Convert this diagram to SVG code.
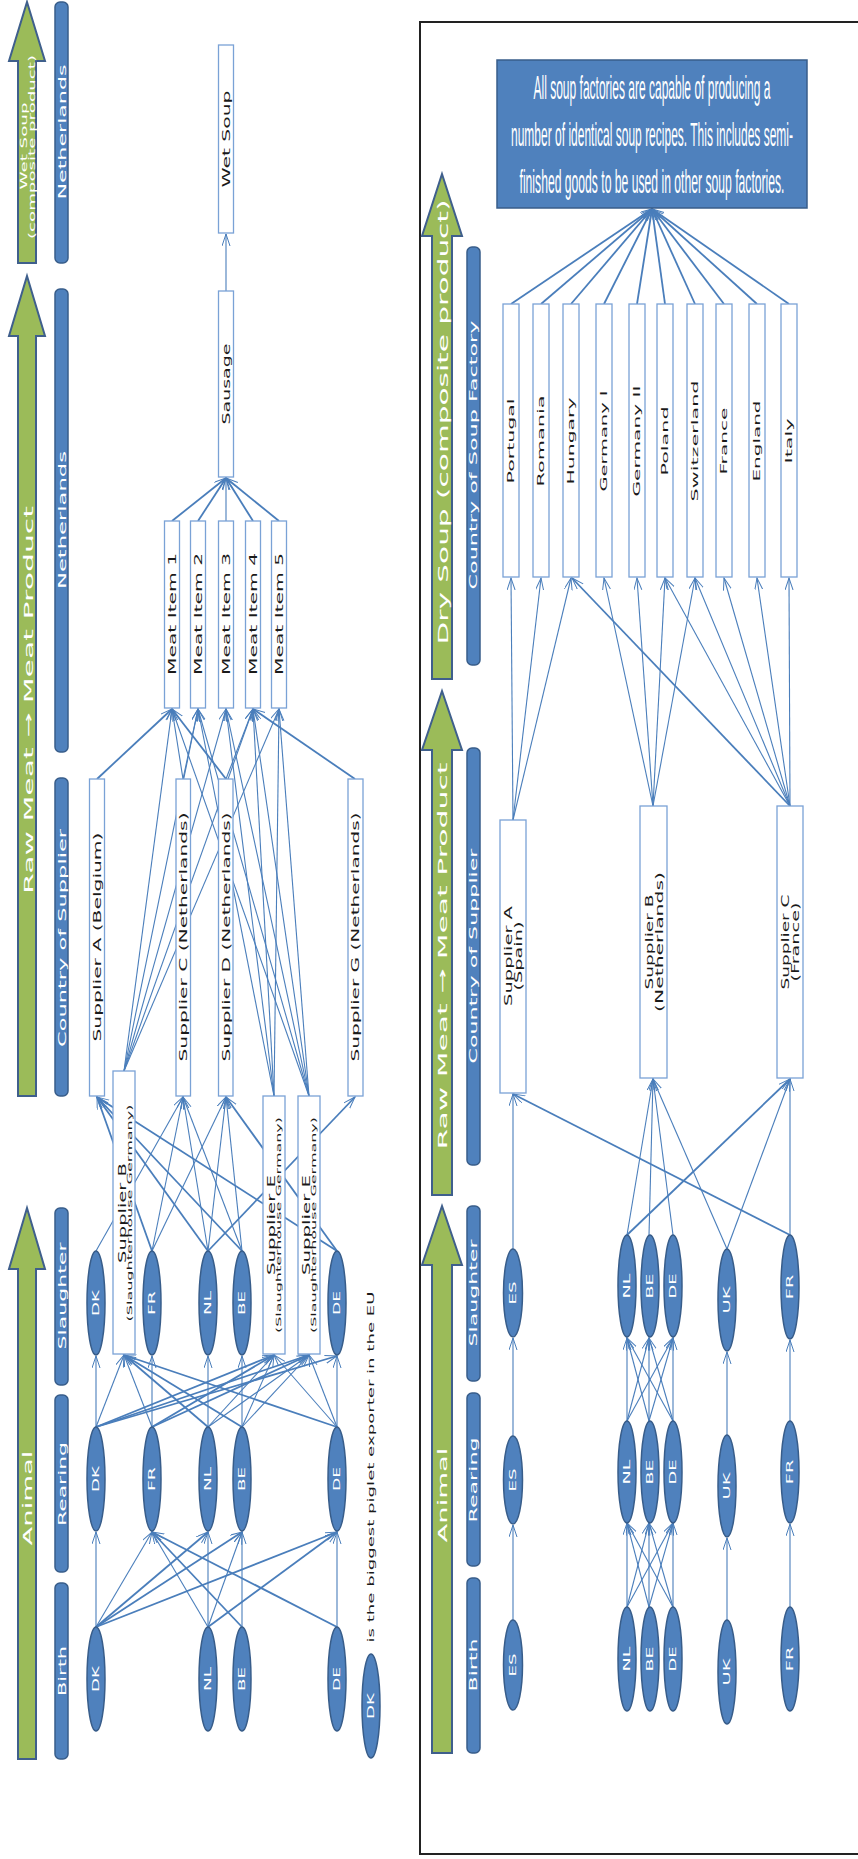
<svg xmlns="http://www.w3.org/2000/svg" width="858" height="1859" viewBox="0 0 858 1859">
<defs>
<marker id="ah" markerUnits="userSpaceOnUse" markerWidth="16" markerHeight="10" refX="12" refY="4" orient="auto"><path d="M0,0 L12,4 L0,8" fill="none" stroke="#4a7ebb" stroke-width="1"/></marker>
</defs>
<style>
.ga{fill:#9bbb59;stroke:#3f5f8c;stroke-width:2}
.bar{fill:#4f81bd;stroke:#385d8a;stroke-width:1.5}
.bx{fill:#fff;stroke:#7aa2d6;stroke-width:1.3}
.el{fill:#4f81bd;stroke:#385d8a;stroke-width:1.5}
.note{fill:#4f81bd;stroke:#385d8a;stroke-width:1.5}
.cn path{fill:none;stroke:#4a7ebb;stroke-width:1.1;marker-end:url(#ah)}
.cn path.k{stroke-width:1.8}
.hw{font-family:"DejaVu Sans",sans-serif;fill:#fff;text-anchor:middle;dominant-baseline:central}
.nt{font-family:"DejaVu Sans",sans-serif;fill:#1a1a1a;text-anchor:middle;dominant-baseline:central}
.et{font-family:"DejaVu Sans",sans-serif;fill:#fff;text-anchor:middle;dominant-baseline:central;font-size:8px}
.ntx{font-family:"Liberation Sans",sans-serif;fill:#fff;text-anchor:middle;font-size:12px}
</style>
<rect width="858" height="1859" fill="#fff"/>

<!-- ===== CONNECTORS ===== -->
<g id="connectors" class="cn">
<!-- left: product level -->
<path d="M226,291 L226,234"/>
<path class="k" d="M172,521 L226,478"/>
<path class="k" d="M198,521 L226,478"/>
<path d="M226,521 L226,478"/>
<path class="k" d="M253,521 L226,478"/>
<path class="k" d="M279,521 L226,478"/>
<!-- suppliers to meat items -->
<path class="k" d="M97,779 L172,709"/>
<path d="M183,779 L172,709"/>
<path d="M183,779 L198,709"/>
<path class="k" d="M226,779 L172,709"/>
<path d="M226,779 L253,709"/>
<path class="k" d="M355,779 L253,709"/>
<path d="M124,1071 L172,709"/>
<path d="M124,1071 L198,709"/>
<path d="M124,1071 L226,709"/>
<path d="M124,1071 L253,709"/>
<path d="M124,1071 L279,709"/>
<path d="M274,1096 L198,709"/>
<path d="M274,1096 L226,709"/>
<path d="M274,1096 L253,709"/>
<path d="M274,1096 L279,709"/>
<path d="M309,1096 L172,709"/>
<path d="M309,1096 L198,709"/>
<path d="M309,1096 L226,709"/>
<path d="M309,1096 L253,709"/>
<path d="M309,1096 L279,709"/>
<!-- slaughter to suppliers -->
<path class="k" d="M152,1251 L97,1097"/>
<path class="k" d="M208,1251 L97,1097"/>
<path class="k" d="M242,1251 L97,1097"/>
<path class="k" d="M337,1251 L97,1097"/>
<path d="M96,1251 L183,1097"/>
<path d="M152,1251 L183,1097"/>
<path d="M208,1251 L183,1097"/>
<path d="M242,1251 L183,1097"/>
<path d="M152,1251 L226,1097"/>
<path d="M208,1251 L226,1097"/>
<path d="M242,1251 L226,1097"/>
<path class="k" d="M337,1251 L226,1097"/>
<path class="k" d="M208,1251 L355,1097"/>
<!-- rearing to slaughter -->
<path d="M96,1427 L96,1356"/>
<path d="M152,1427 L152,1356"/>
<path d="M208,1427 L208,1356"/>
<path d="M242,1427 L242,1356"/>
<path d="M337,1427 L337,1356"/>
<path d="M96,1427 L124,1355"/>
<path d="M152,1427 L124,1355"/>
<path class="k" d="M208,1427 L124,1355"/>
<path class="k" d="M242,1427 L124,1355"/>
<path class="k" d="M337,1427 L124,1355"/>
<path class="k" d="M96,1427 L274,1355"/>
<path class="k" d="M152,1427 L274,1355"/>
<path d="M208,1427 L274,1355"/>
<path d="M242,1427 L274,1355"/>
<path d="M337,1427 L274,1355"/>
<path class="k" d="M96,1427 L309,1355"/>
<path class="k" d="M152,1427 L309,1355"/>
<path d="M208,1427 L309,1355"/>
<path d="M242,1427 L309,1355"/>
<path d="M337,1427 L309,1355"/>
<path class="k" d="M96,1427 L337,1356"/>
<!-- birth to rearing -->
<path d="M96,1627 L96,1532"/>
<path d="M96,1627 L152,1532"/>
<path class="k" d="M96,1627 L208,1532"/>
<path class="k" d="M96,1627 L242,1532"/>
<path class="k" d="M96,1627 L337,1532"/>
<path d="M208,1627 L152,1532"/>
<path d="M208,1627 L208,1532"/>
<path d="M208,1627 L242,1532"/>
<path class="k" d="M208,1627 L337,1532"/>
<path class="k" d="M242,1627 L152,1532"/>
<path d="M242,1627 L242,1532"/>
<path class="k" d="M337,1627 L152,1532"/>
<path d="M337,1627 L337,1532"/>

<!-- right: animal -->
<path d="M513,1620 L513,1525"/>
<path d="M513,1436 L513,1338"/>
<path d="M513,1249 L513,1094"/>
<path d="M627,1607 L627,1523"/>
<path d="M627,1607 L649,1523"/>
<path d="M627,1607 L673,1523"/>
<path d="M649,1607 L627,1523"/>
<path d="M649,1607 L649,1523"/>
<path d="M649,1607 L673,1523"/>
<path d="M673,1607 L627,1523"/>
<path d="M673,1607 L649,1523"/>
<path d="M673,1607 L673,1523"/>
<path d="M627,1421 L627,1338"/>
<path d="M627,1421 L649,1338"/>
<path d="M627,1421 L673,1338"/>
<path d="M649,1421 L627,1338"/>
<path d="M649,1421 L649,1338"/>
<path d="M649,1421 L673,1338"/>
<path d="M673,1421 L627,1338"/>
<path d="M673,1421 L649,1338"/>
<path d="M673,1421 L673,1338"/>
<path d="M727,1620 L727,1538"/>
<path d="M727,1435 L727,1352"/>
<path d="M790,1607 L790,1524"/>
<path d="M790,1421 L790,1340"/>
<path d="M627,1235 L653,1079"/>
<path d="M649,1235 L653,1079"/>
<path d="M673,1235 L653,1079"/>
<path d="M727,1249 L653,1079"/>
<path class="k" d="M627,1235 L790,1079"/>
<path d="M727,1249 L790,1079"/>
<path d="M790,1235 L790,1079"/>
<path class="k" d="M790,1235 L513,1094"/>
<!-- suppliers to factories -->
<path d="M513,820 L511,578"/>
<path d="M513,820 L541,578"/>
<path d="M513,820 L571,578"/>
<path d="M653,806 L604,578"/>
<path d="M653,806 L637,578"/>
<path d="M653,806 L665,578"/>
<path d="M653,806 L695,578"/>
<path class="k" d="M790,806 L572,578"/>
<path d="M790,806 L665,578"/>
<path d="M790,806 L695,578"/>
<path d="M790,806 L724,578"/>
<path d="M790,806 L757,578"/>
<path d="M790,806 L789,578"/>
<!-- factories to note -->
<path class="k" d="M511,304 L652,209"/>
<path class="k" d="M541,304 L652,209"/>
<path class="k" d="M571,304 L652,209"/>
<path class="k" d="M604,304 L652,209"/>
<path class="k" d="M637,304 L652,209"/>
<path class="k" d="M665,304 L652,209"/>
<path class="k" d="M695,304 L652,209"/>
<path class="k" d="M724,304 L652,209"/>
<path class="k" d="M757,304 L652,209"/>
<path class="k" d="M789,304 L652,209"/>
</g>

<!-- ===== LEFT PANEL ===== -->
<g id="l-stage-wetsoup">
<polygon class="ga" points="27,2 45,61 36,61 36,263 18,263 18,61 9,61"/>
<text class="hw" font-size="8" transform="translate(24,146) rotate(-90)" textLength="87" lengthAdjust="spacingAndGlyphs">Wet Soup</text>
<text class="hw" font-size="8" transform="translate(32,147) rotate(-90)" textLength="184" lengthAdjust="spacingAndGlyphs">(composite product)</text>
</g>
<g id="l-stage-meat">
<polygon class="ga" points="27,276 45,336 36,336 36,1096 18,1096 18,336 9,336"/>
<text class="hw" font-size="13" transform="translate(28,700) rotate(-90)" textLength="388" lengthAdjust="spacingAndGlyphs">Raw Meat → Meat Product</text>
</g>
<g id="l-stage-animal">
<polygon class="ga" points="27,1208 45,1269 36,1269 36,1759 18,1759 18,1269 9,1269"/>
<text class="hw" font-size="13" transform="translate(27,1498) rotate(-90)" textLength="95" lengthAdjust="spacingAndGlyphs">Animal</text>
</g>
<g id="l-bar-nl1"><rect class="bar" x="55" y="2" width="13" height="261" rx="5"/>
<text class="hw" font-size="10" transform="translate(62,132) rotate(-90)" textLength="135" lengthAdjust="spacingAndGlyphs">Netherlands</text></g>
<g id="l-bar-nl2"><rect class="bar" x="55" y="289" width="13" height="463" rx="5"/>
<text class="hw" font-size="10" transform="translate(62,520) rotate(-90)" textLength="138" lengthAdjust="spacingAndGlyphs">Netherlands</text></g>
<g id="l-bar-supplier"><rect class="bar" x="55" y="778" width="13" height="318" rx="5"/>
<text class="hw" font-size="10" transform="translate(62,938) rotate(-90)" textLength="218" lengthAdjust="spacingAndGlyphs">Country of Supplier</text></g>
<g id="l-bar-slaughter"><rect class="bar" x="55" y="1208" width="13" height="177" rx="5"/>
<text class="hw" font-size="10" transform="translate(62,1296) rotate(-90)" textLength="107" lengthAdjust="spacingAndGlyphs">Slaughter</text></g>
<g id="l-bar-rearing"><rect class="bar" x="55" y="1395" width="13" height="177" rx="5"/>
<text class="hw" font-size="10" transform="translate(62,1484) rotate(-90)" textLength="84" lengthAdjust="spacingAndGlyphs">Rearing</text></g>
<g id="l-bar-birth"><rect class="bar" x="55" y="1583" width="13" height="176" rx="5"/>
<text class="hw" font-size="10" transform="translate(62,1671) rotate(-90)" textLength="50" lengthAdjust="spacingAndGlyphs">Birth</text></g>

<g id="l-wetsoup"><rect class="bx" x="218.5" y="45" width="15" height="188"/>
<text class="nt" font-size="10" transform="translate(226,139) rotate(-90)" textLength="97" lengthAdjust="spacingAndGlyphs">Wet Soup</text></g>
<g id="l-sausage"><rect class="bx" x="218.5" y="291" width="15" height="186"/>
<text class="nt" font-size="10" transform="translate(226,384) rotate(-90)" textLength="81" lengthAdjust="spacingAndGlyphs">Sausage</text></g>
<g id="l-mi1"><rect class="bx" x="164.5" y="521" width="15" height="187"/>
<text class="nt" font-size="10" transform="translate(172,614) rotate(-90)" textLength="122" lengthAdjust="spacingAndGlyphs">Meat Item 1</text></g>
<g id="l-mi2"><rect class="bx" x="190.5" y="521" width="15" height="187"/>
<text class="nt" font-size="10" transform="translate(198,614) rotate(-90)" textLength="122" lengthAdjust="spacingAndGlyphs">Meat Item 2</text></g>
<g id="l-mi3"><rect class="bx" x="218.5" y="521" width="15" height="187"/>
<text class="nt" font-size="10" transform="translate(226,614) rotate(-90)" textLength="122" lengthAdjust="spacingAndGlyphs">Meat Item 3</text></g>
<g id="l-mi4"><rect class="bx" x="245.5" y="521" width="15" height="187"/>
<text class="nt" font-size="10" transform="translate(253,614) rotate(-90)" textLength="122" lengthAdjust="spacingAndGlyphs">Meat Item 4</text></g>
<g id="l-mi5"><rect class="bx" x="271.5" y="521" width="15" height="187"/>
<text class="nt" font-size="10" transform="translate(279,614) rotate(-90)" textLength="122" lengthAdjust="spacingAndGlyphs">Meat Item 5</text></g>

<g id="l-supA"><rect class="bx" x="89.5" y="779" width="15" height="317"/>
<text class="nt" font-size="10" transform="translate(97,937) rotate(-90)" textLength="209" lengthAdjust="spacingAndGlyphs">Supplier A (Belgium)</text></g>
<g id="l-supC"><rect class="bx" x="176" y="779" width="14.5" height="317"/>
<text class="nt" font-size="10" transform="translate(183,937) rotate(-90)" textLength="249" lengthAdjust="spacingAndGlyphs">Supplier C (Netherlands)</text></g>
<g id="l-supD"><rect class="bx" x="218.5" y="779" width="14.5" height="317"/>
<text class="nt" font-size="10" transform="translate(226,937) rotate(-90)" textLength="249" lengthAdjust="spacingAndGlyphs">Supplier D (Netherlands)</text></g>
<g id="l-supG"><rect class="bx" x="348" y="779" width="15" height="317"/>
<text class="nt" font-size="10" transform="translate(355,937) rotate(-90)" textLength="249" lengthAdjust="spacingAndGlyphs">Supplier G (Netherlands)</text></g>
<g id="l-supB"><rect class="bx" x="113" y="1071" width="22" height="283"/>
<text class="nt" font-size="10" transform="translate(122,1213) rotate(-90)" textLength="100" lengthAdjust="spacingAndGlyphs">Supplier B</text>
<text class="nt" font-size="7" transform="translate(130,1213) rotate(-90)" textLength="217" lengthAdjust="spacingAndGlyphs">(Slaughterhouse Germany)</text></g>
<g id="l-supE1"><rect class="bx" x="263" y="1096" width="22" height="258"/>
<text class="nt" font-size="10" transform="translate(271,1225) rotate(-90)" textLength="100" lengthAdjust="spacingAndGlyphs">Supplier E</text>
<text class="nt" font-size="7" transform="translate(279,1225) rotate(-90)" textLength="216" lengthAdjust="spacingAndGlyphs">(Slaughterhouse Germany)</text></g>
<g id="l-supE2"><rect class="bx" x="298" y="1096" width="22" height="258"/>
<text class="nt" font-size="10" transform="translate(306,1225) rotate(-90)" textLength="100" lengthAdjust="spacingAndGlyphs">Supplier E</text>
<text class="nt" font-size="7" transform="translate(314,1225) rotate(-90)" textLength="216" lengthAdjust="spacingAndGlyphs">(Slaughterhouse Germany)</text></g>

<g id="l-s-dk"><ellipse class="el" cx="96" cy="1303" rx="9" ry="52"/><text class="et" transform="translate(96,1303) rotate(-90)" textLength="26" lengthAdjust="spacingAndGlyphs">DK</text></g>
<g id="l-s-fr"><ellipse class="el" cx="152" cy="1303" rx="9" ry="52"/><text class="et" transform="translate(152,1303) rotate(-90)" textLength="24" lengthAdjust="spacingAndGlyphs">FR</text></g>
<g id="l-s-nl"><ellipse class="el" cx="208" cy="1303" rx="9" ry="52"/><text class="et" transform="translate(208,1303) rotate(-90)" textLength="24" lengthAdjust="spacingAndGlyphs">NL</text></g>
<g id="l-s-be"><ellipse class="el" cx="242" cy="1303" rx="9" ry="52"/><text class="et" transform="translate(242,1303) rotate(-90)" textLength="24" lengthAdjust="spacingAndGlyphs">BE</text></g>
<g id="l-s-de"><ellipse class="el" cx="337" cy="1303" rx="9" ry="52"/><text class="et" transform="translate(337,1303) rotate(-90)" textLength="24" lengthAdjust="spacingAndGlyphs">DE</text></g>
<g id="l-r-dk"><ellipse class="el" cx="96" cy="1479" rx="9" ry="52"/><text class="et" transform="translate(96,1479) rotate(-90)" textLength="26" lengthAdjust="spacingAndGlyphs">DK</text></g>
<g id="l-r-fr"><ellipse class="el" cx="152" cy="1479" rx="9" ry="52"/><text class="et" transform="translate(152,1479) rotate(-90)" textLength="24" lengthAdjust="spacingAndGlyphs">FR</text></g>
<g id="l-r-nl"><ellipse class="el" cx="208" cy="1479" rx="9" ry="52"/><text class="et" transform="translate(208,1479) rotate(-90)" textLength="24" lengthAdjust="spacingAndGlyphs">NL</text></g>
<g id="l-r-be"><ellipse class="el" cx="242" cy="1479" rx="9" ry="52"/><text class="et" transform="translate(242,1479) rotate(-90)" textLength="24" lengthAdjust="spacingAndGlyphs">BE</text></g>
<g id="l-r-de"><ellipse class="el" cx="337" cy="1479" rx="9" ry="52"/><text class="et" transform="translate(337,1479) rotate(-90)" textLength="24" lengthAdjust="spacingAndGlyphs">DE</text></g>
<g id="l-b-dk"><ellipse class="el" cx="96" cy="1679" rx="9" ry="52"/><text class="et" transform="translate(96,1679) rotate(-90)" textLength="26" lengthAdjust="spacingAndGlyphs">DK</text></g>
<g id="l-b-nl"><ellipse class="el" cx="208" cy="1679" rx="9" ry="52"/><text class="et" transform="translate(208,1679) rotate(-90)" textLength="24" lengthAdjust="spacingAndGlyphs">NL</text></g>
<g id="l-b-be"><ellipse class="el" cx="242" cy="1679" rx="9" ry="52"/><text class="et" transform="translate(242,1679) rotate(-90)" textLength="24" lengthAdjust="spacingAndGlyphs">BE</text></g>
<g id="l-b-de"><ellipse class="el" cx="337" cy="1679" rx="9" ry="52"/><text class="et" transform="translate(337,1679) rotate(-90)" textLength="24" lengthAdjust="spacingAndGlyphs">DE</text></g>
<g id="l-legend"><ellipse class="el" cx="371" cy="1706" rx="9" ry="52"/><text class="et" transform="translate(371,1706) rotate(-90)" textLength="26" lengthAdjust="spacingAndGlyphs">DK</text>
<text class="nt" font-size="9" transform="translate(371,1467) rotate(-90)" textLength="351" lengthAdjust="spacingAndGlyphs">is the biggest piglet exporter in the EU</text></g>

<!-- ===== RIGHT PANEL ===== -->
<rect id="frame" x="420" y="22" width="440" height="1832" fill="none" stroke="#222" stroke-width="2"/>
<g id="r-stage-dry">
<polygon class="ga" points="442,174 462,236 452,236 452,679 432,679 432,236 422,236"/>
<text class="hw" font-size="14" transform="translate(443,422) rotate(-90)" textLength="445" lengthAdjust="spacingAndGlyphs">Dry Soup (composite product)</text>
</g>
<g id="r-stage-meat">
<polygon class="ga" points="442,691 462,750 452,750 452,1195 432,1195 432,750 422,750"/>
<text class="hw" font-size="13" transform="translate(442,956) rotate(-90)" textLength="387" lengthAdjust="spacingAndGlyphs">Raw Meat → Meat Product</text>
</g>
<g id="r-stage-animal">
<polygon class="ga" points="442,1206 462,1265 452,1265 452,1753 432,1753 432,1265 422,1265"/>
<text class="hw" font-size="13" transform="translate(442,1495) rotate(-90)" textLength="95" lengthAdjust="spacingAndGlyphs">Animal</text>
</g>
<g id="r-bar-factory"><rect class="bar" x="467" y="247" width="13" height="418" rx="5"/>
<text class="hw" font-size="10" transform="translate(473,455) rotate(-90)" textLength="269" lengthAdjust="spacingAndGlyphs">Country of Soup Factory</text></g>
<g id="r-bar-supplier"><rect class="bar" x="467" y="748" width="13" height="417" rx="5"/>
<text class="hw" font-size="10" transform="translate(473,956) rotate(-90)" textLength="215" lengthAdjust="spacingAndGlyphs">Country of Supplier</text></g>
<g id="r-bar-slaughter"><rect class="bar" x="467" y="1206" width="13" height="175" rx="5"/>
<text class="hw" font-size="10" transform="translate(473,1293) rotate(-90)" textLength="107" lengthAdjust="spacingAndGlyphs">Slaughter</text></g>
<g id="r-bar-rearing"><rect class="bar" x="467" y="1393" width="13" height="173" rx="5"/>
<text class="hw" font-size="10" transform="translate(473,1480) rotate(-90)" textLength="85" lengthAdjust="spacingAndGlyphs">Rearing</text></g>
<g id="r-bar-birth"><rect class="bar" x="467" y="1578" width="13" height="175" rx="5"/>
<text class="hw" font-size="10" transform="translate(473,1665) rotate(-90)" textLength="53" lengthAdjust="spacingAndGlyphs">Birth</text></g>

<g id="r-note"><rect class="note" x="497" y="60" width="310" height="148"/>
<text class="ntx" transform="translate(652,99) scale(1,2.8)" textLength="237" lengthAdjust="spacingAndGlyphs">All soup factories are capable of producing a</text>
<text class="ntx" transform="translate(652,146) scale(1,2.8)" textLength="282" lengthAdjust="spacingAndGlyphs">number of identical soup recipes. This includes semi-</text>
<text class="ntx" transform="translate(652,193) scale(1,2.8)" textLength="265" lengthAdjust="spacingAndGlyphs">finished goods to be used in other soup factories.</text></g>

<g id="r-f-portugal"><rect class="bx" x="503" y="304" width="16" height="273"/><text class="nt" font-size="9" transform="translate(511,441) rotate(-90)" textLength="85" lengthAdjust="spacingAndGlyphs">Portugal</text></g>
<g id="r-f-romania"><rect class="bx" x="533" y="304" width="16" height="273"/><text class="nt" font-size="9" transform="translate(541,441) rotate(-90)" textLength="91" lengthAdjust="spacingAndGlyphs">Romania</text></g>
<g id="r-f-hungary"><rect class="bx" x="563" y="304" width="16" height="273"/><text class="nt" font-size="9" transform="translate(571,441) rotate(-90)" textLength="87" lengthAdjust="spacingAndGlyphs">Hungary</text></g>
<g id="r-f-germany1"><rect class="bx" x="596" y="304" width="16" height="273"/><text class="nt" font-size="9" transform="translate(604,441) rotate(-90)" textLength="101" lengthAdjust="spacingAndGlyphs">Germany I</text></g>
<g id="r-f-germany2"><rect class="bx" x="629" y="304" width="16" height="273"/><text class="nt" font-size="9" transform="translate(637,441) rotate(-90)" textLength="111" lengthAdjust="spacingAndGlyphs">Germany II</text></g>
<g id="r-f-poland"><rect class="bx" x="657" y="304" width="16" height="273"/><text class="nt" font-size="9" transform="translate(665,441) rotate(-90)" textLength="69" lengthAdjust="spacingAndGlyphs">Poland</text></g>
<g id="r-f-switzerland"><rect class="bx" x="687" y="304" width="16" height="273"/><text class="nt" font-size="9" transform="translate(695,441) rotate(-90)" textLength="121" lengthAdjust="spacingAndGlyphs">Switzerland</text></g>
<g id="r-f-france"><rect class="bx" x="716" y="304" width="16" height="273"/><text class="nt" font-size="9" transform="translate(724,441) rotate(-90)" textLength="67" lengthAdjust="spacingAndGlyphs">France</text></g>
<g id="r-f-england"><rect class="bx" x="749" y="304" width="16" height="273"/><text class="nt" font-size="9" transform="translate(757,441) rotate(-90)" textLength="81" lengthAdjust="spacingAndGlyphs">England</text></g>
<g id="r-f-italy"><rect class="bx" x="781" y="304" width="16" height="273"/><text class="nt" font-size="9" transform="translate(789,441) rotate(-90)" textLength="45" lengthAdjust="spacingAndGlyphs">Italy</text></g>

<g id="r-supA"><rect class="bx" x="500" y="820" width="26" height="273"/>
<text class="nt" font-size="10" transform="translate(508,956) rotate(-90)" textLength="100" lengthAdjust="spacingAndGlyphs">Supplier A</text>
<text class="nt" font-size="10" transform="translate(518,956) rotate(-90)" textLength="69" lengthAdjust="spacingAndGlyphs">(Spain)</text></g>
<g id="r-supB"><rect class="bx" x="640" y="806" width="27" height="272"/>
<text class="nt" font-size="10" transform="translate(649,942) rotate(-90)" textLength="95" lengthAdjust="spacingAndGlyphs">Supplier B</text>
<text class="nt" font-size="10" transform="translate(659,942) rotate(-90)" textLength="140" lengthAdjust="spacingAndGlyphs">(Netherlands)</text></g>
<g id="r-supC"><rect class="bx" x="777" y="806" width="26" height="272"/>
<text class="nt" font-size="10" transform="translate(785,942) rotate(-90)" textLength="95" lengthAdjust="spacingAndGlyphs">Supplier C</text>
<text class="nt" font-size="10" transform="translate(795,942) rotate(-90)" textLength="79" lengthAdjust="spacingAndGlyphs">(France)</text></g>

<g id="r-s-es"><ellipse class="el" cx="513" cy="1293" rx="9.5" ry="44"/><text class="et" transform="translate(513,1293) rotate(-90)" textLength="23" lengthAdjust="spacingAndGlyphs">ES</text></g>
<g id="r-s-nl"><ellipse class="el" cx="627" cy="1286" rx="9" ry="51"/><text class="et" transform="translate(627,1286) rotate(-90)" textLength="25" lengthAdjust="spacingAndGlyphs">NL</text></g>
<g id="r-s-be"><ellipse class="el" cx="650" cy="1286" rx="9" ry="51"/><text class="et" transform="translate(650,1286) rotate(-90)" textLength="25" lengthAdjust="spacingAndGlyphs">BE</text></g>
<g id="r-s-de"><ellipse class="el" cx="673" cy="1286" rx="9" ry="51"/><text class="et" transform="translate(673,1286) rotate(-90)" textLength="25" lengthAdjust="spacingAndGlyphs">DE</text></g>
<g id="r-s-uk"><ellipse class="el" cx="727" cy="1300" rx="9" ry="51"/><text class="et" transform="translate(727,1300) rotate(-90)" textLength="27" lengthAdjust="spacingAndGlyphs">UK</text></g>
<g id="r-s-fr"><ellipse class="el" cx="790" cy="1287" rx="9" ry="52"/><text class="et" transform="translate(790,1287) rotate(-90)" textLength="25" lengthAdjust="spacingAndGlyphs">FR</text></g>
<g id="r-r-es"><ellipse class="el" cx="513" cy="1480" rx="9.5" ry="44"/><text class="et" transform="translate(513,1480) rotate(-90)" textLength="23" lengthAdjust="spacingAndGlyphs">ES</text></g>
<g id="r-r-nl"><ellipse class="el" cx="627" cy="1472" rx="9" ry="51"/><text class="et" transform="translate(627,1472) rotate(-90)" textLength="25" lengthAdjust="spacingAndGlyphs">NL</text></g>
<g id="r-r-be"><ellipse class="el" cx="650" cy="1472" rx="9" ry="51"/><text class="et" transform="translate(650,1472) rotate(-90)" textLength="25" lengthAdjust="spacingAndGlyphs">BE</text></g>
<g id="r-r-de"><ellipse class="el" cx="673" cy="1472" rx="9" ry="51"/><text class="et" transform="translate(673,1472) rotate(-90)" textLength="25" lengthAdjust="spacingAndGlyphs">DE</text></g>
<g id="r-r-uk"><ellipse class="el" cx="727" cy="1486" rx="9" ry="51"/><text class="et" transform="translate(727,1486) rotate(-90)" textLength="27" lengthAdjust="spacingAndGlyphs">UK</text></g>
<g id="r-r-fr"><ellipse class="el" cx="790" cy="1472" rx="9" ry="51"/><text class="et" transform="translate(790,1472) rotate(-90)" textLength="25" lengthAdjust="spacingAndGlyphs">FR</text></g>
<g id="r-b-es"><ellipse class="el" cx="513" cy="1665" rx="9.5" ry="45"/><text class="et" transform="translate(513,1665) rotate(-90)" textLength="23" lengthAdjust="spacingAndGlyphs">ES</text></g>
<g id="r-b-nl"><ellipse class="el" cx="627" cy="1659" rx="9" ry="52"/><text class="et" transform="translate(627,1659) rotate(-90)" textLength="25" lengthAdjust="spacingAndGlyphs">NL</text></g>
<g id="r-b-be"><ellipse class="el" cx="650" cy="1659" rx="9" ry="52"/><text class="et" transform="translate(650,1659) rotate(-90)" textLength="25" lengthAdjust="spacingAndGlyphs">BE</text></g>
<g id="r-b-de"><ellipse class="el" cx="673" cy="1659" rx="9" ry="52"/><text class="et" transform="translate(673,1659) rotate(-90)" textLength="25" lengthAdjust="spacingAndGlyphs">DE</text></g>
<g id="r-b-uk"><ellipse class="el" cx="727" cy="1672" rx="9" ry="52"/><text class="et" transform="translate(727,1672) rotate(-90)" textLength="27" lengthAdjust="spacingAndGlyphs">UK</text></g>
<g id="r-b-fr"><ellipse class="el" cx="790" cy="1659" rx="9" ry="52"/><text class="et" transform="translate(790,1659) rotate(-90)" textLength="25" lengthAdjust="spacingAndGlyphs">FR</text></g>
</svg>
